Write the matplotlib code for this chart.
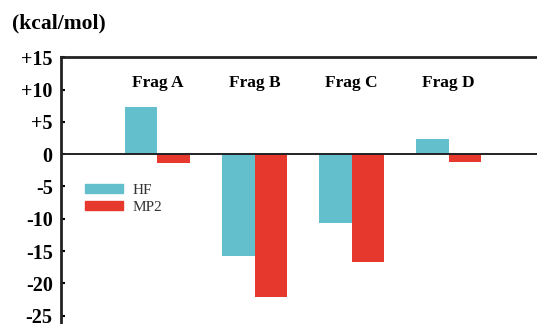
import matplotlib
matplotlib.use("Agg")
import matplotlib.pyplot as plt
from matplotlib.patches import Patch
import numpy as np

categories = ["Frag A", "Frag B", "Frag C", "Frag D"]
hf = [7.3, -15.8, -10.6, 2.3]
mp2 = [-1.4, -22.1, -16.7, -1.2]
ytick_vals = [15, 10, 5, 0, -5, -10, -15, -20, -25]
ytick_labels = ["+15", "+10", "+5", "0", "-5", "-10", "-15", "-20", "-25"]
series_names = ["HF", "MP2"]

c_hf = "#62BFCB"
c_mp2 = "#E6382C"

plt.rcParams['font.family'] = ['Liberation Serif', 'DejaVu Serif']

fig = plt.figure(figsize=(5.37, 3.24), dpi=100)
ax = fig.add_axes([61/537, 0.0, 1 - 61/537 + 0.002, 1 - 57.3/324])

x = np.arange(1, len(categories) + 1)
w = 1/3
ax.bar(x - w/2, hf, width=w, color=c_hf)
ax.bar(x + w/2, mp2, width=w, color=c_mp2)
ax.axhline(0, color="#222222", lw=1.4)

ax.set_xlim(0.007, 4.92)
ax.set_ylim(-26.3, 15)
ax.set_xticks([])
ax.set_yticks(ytick_vals)
ax.set_yticklabels(ytick_labels, fontweight="bold", fontsize=14.5)
ax.tick_params(axis="y", direction="in", length=3, width=1.5, pad=6)

for s in ["right", "bottom"]:
    ax.spines[s].set_visible(False)
ax.spines["top"].set_linewidth(2)
ax.spines["left"].set_linewidth(2)
ax.spines["top"].set_color("#222222")
ax.spines["left"].set_color("#222222")

for xi, name in zip(x, categories):
    ax.text(xi, 11.0, name, ha="center", va="center", fontweight="bold", fontsize=12.5)

handles = [Patch(color=c_hf), Patch(color=c_mp2)]
leg = ax.legend(handles, series_names, loc="upper left", bbox_to_anchor=(0.05, 0.525),
                frameon=False, fontsize=11, handlelength=2.5, handleheight=0.55,
                labelspacing=0.25, borderpad=0, handletextpad=0.6, borderaxespad=0)
for t in leg.get_texts():
    t.set_color("#333333")

fig.text(12/537, 1 - 23/324, "(kcal/mol)", ha="left", va="center", fontweight="bold", fontsize=15.5)

fig.savefig("out.png", dpi=100)
